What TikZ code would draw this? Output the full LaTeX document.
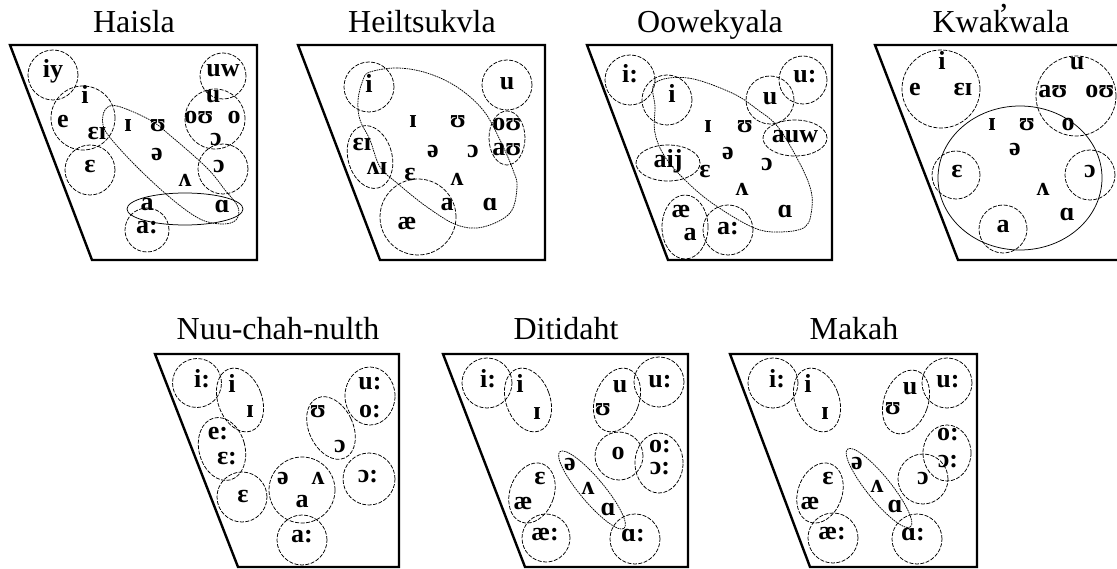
\documentclass[tikz,border=0pt]{standalone}
\usepackage{fontspec}
\setmainfont{Liberation Serif}
\newcommand\ipafnt{\fontsize{26}{26}\bfseries\selectfont}
\newcommand\ttlfnt{\fontsize{32}{32}\selectfont}
\tikzset{
  frame/.style={line width=2.4pt, line join=miter},
  ring/.style={line width=0.75pt, dash pattern=on 4pt off 1.5pt},
  trail/.style={line width=0.75pt, dash pattern=on 1.6pt off 0.8pt},
  v/.style={font=\ipafnt, inner sep=0pt, text height=1ex, text depth=0pt},
  ttl/.style={font=\ttlfnt, anchor=base, inner sep=0pt},
}
\begin{document}
\begin{tikzpicture}[x=1pt,y=-1pt]
\useasboundingbox (0,0) rectangle (1117,569);
\fill[white] (0,0) rectangle (1117,569);
\clip (0,0) rectangle (1117,569);

% ---------------- Haisla ----------------
\node[ttl] (t1) at (134,33) {Haisla};
\draw[frame] (10,45) -- (257,45) -- (257,260) -- (92,260) -- cycle;
\draw[ring] (53,75) circle[radius=25pt];
\draw[ring] (83,118) circle[radius=32pt];
\draw[ring] (90,170) circle[radius=25pt];
\draw[ring] (223,76) circle[radius=23pt];
\draw[ring] (215,119) circle[radius=30pt];
\draw[ring] (223,169) circle[radius=25pt];
\draw[ring] (147,230) circle[radius=22pt];
\draw[line width=0.75pt] (185,209) ellipse[x radius=58pt, y radius=16pt];
\draw[trail] plot[smooth cycle, tension=0.6] coordinates {(105,110) (117,106) (150,120) (172,137) (207,168) (225,190) (238,207) (236,220) (222,224) (200,219) (173,200) (140,170) (112,140) (103,125)};
\node[v] (h1) at (53,75) {iy};
\node[v] (h2) at (85,101) {i};
\node[v] (h3) at (63,125) {e};
\node[v] (h4) at (97,137) {ɛɪ};
\node[v] (h5) at (90,170) {ɛ};
\node[v] (h6) at (223,74) {uw};
\node[v] (h7) at (213,100) {u};
\node[v] (h8) at (199,121) {oʊ};
\node[v] (h9) at (234,121) {o};
\node[v] (h10) at (216,143) {ɔ};
\node[v] (h11) at (219,170) {ɔ};
\node[v] (h12) at (128,129) {ɪ};
\node[v] (h13) at (158,129) {ʊ};
\node[v] (h14) at (157,158) {ə};
\node[v] (h15) at (185,184) {ʌ};
\node[v] (h16) at (147,208) {a};
\node[v] (h17) at (222,210) {ɑ};
\node[v] (h18) at (147,231) {a:};

% ---------------- Heiltsukvla ----------------
\node[ttl] (t2) at (422,33) {Heiltsukvla};
\draw[frame] (298,45) -- (545,45) -- (545,260) -- (380,260) -- cycle;
\draw[ring] (369,87) circle[radius=25pt];
\draw[ring] (507,85) circle[radius=25pt];
\draw[ring] (507,138) ellipse[x radius=18pt, y radius=27pt];
\draw[ring, rotate around={15:(370,157)}] (370,157) ellipse[x radius=22pt, y radius=32pt];
\draw[ring] (418,217) circle[radius=38pt];
\draw[trail] plot[smooth cycle, tension=0.6] coordinates {(370,72) (397,68) (427,73) (457,87) (483,110) (500,140) (513,170) (517,187) (510,213) (483,227) (457,225) (427,207) (397,183) (380,167) (370,140) (360,120) (358,100) (363,80)};
\node[v] (k1) at (369,90) {i};
\node[v] (k2) at (507,87) {u};
\node[v] (k3) at (507,128) {oʊ};
\node[v] (k4) at (507,153) {aʊ};
\node[v] (k5) at (362,148) {ɛɪ};
\node[v] (k6) at (377,172) {ʌɪ};
\node[v] (k7) at (410,178) {ɛ};
\node[v] (k8) at (447,208) {a};
\node[v] (k9) at (407,227) {æ};
\node[v] (k10) at (413,125) {ɪ};
\node[v] (k11) at (458,125) {ʊ};
\node[v] (k12) at (433,155) {ə};
\node[v] (k13) at (473,155) {ɔ};
\node[v] (k14) at (457,183) {ʌ};
\node[v] (k15) at (490,208) {ɑ};

% ---------------- Oowekyala ----------------
\node[ttl] (t3) at (710,33) {Oowekyala};
\draw[frame] (587,45) -- (832,45) -- (832,260) -- (668,260) -- cycle;
\draw[ring] (630,80) circle[radius=25pt];
\draw[ring] (667,100) circle[radius=25pt];
\draw[ring] (770,100) circle[radius=24pt];
\draw[ring] (803,80) circle[radius=24pt];
\draw[ring] (795,138) ellipse[x radius=32pt, y radius=18pt];
\draw[ring] (668,163) ellipse[x radius=32pt, y radius=18pt];
\draw[ring] (685,227) ellipse[x radius=23pt, y radius=32pt];
\draw[ring] (728,230) circle[radius=25pt];
\draw[trail] plot[smooth cycle, tension=0.6] coordinates {(655,83) (688,78) (732,93) (758,110) (778,127) (798,160) (810,187) (812,207) (805,227) (778,232) (752,227) (712,203) (685,180) (665,157) (655,133) (655,107)};
\node[v] (o1) at (630,80) {i:};
\node[v] (o2) at (672,100) {i};
\node[v] (o3) at (770,102) {u};
\node[v] (o4) at (805,80) {u:};
\node[v] (o5) at (795,140) {auw};
\node[v] (o6) at (668,165) {aij};
\node[v] (o7) at (681,215) {æ};
\node[v] (o8) at (690,238) {a};
\node[v] (o9) at (728,232) {a:};
\node[v] (o10) at (708,130) {ɪ};
\node[v] (o11) at (745,130) {ʊ};
\node[v] (o12) at (728,157) {ə};
\node[v] (o13) at (767,168) {ɔ};
\node[v] (o14) at (705,175) {ɛ};
\node[v] (o15) at (742,193) {ʌ};
\node[v] (o16) at (785,215) {ɑ};

% ---------------- Kwakwala ----------------
\node[ttl] (t4) at (1001,33) {Kwak\makebox[0pt][r]{\raisebox{0.22em}{’}}wala};
\draw[frame] (875,45) -- (1130,45) -- (1130,260) -- (958,260) -- cycle;
\draw[ring] (941,89) circle[radius=39pt];
\draw[ring] (1076,96) circle[radius=40pt];
\draw[line width=0.75pt] (1020,178) ellipse[x radius=82pt, y radius=72pt];
\draw[ring] (956,175) circle[radius=24pt];
\draw[ring] (1090,175) circle[radius=25pt];
\draw[ring] (1003,229) circle[radius=24pt];
\node[v] (w1) at (942,67) {i};
\node[v] (w2) at (915,93) {e};
\node[v] (w3) at (963,93) {ɛɪ};
\node[v] (w4) at (1077,67) {u};
\node[v] (w5) at (1053,95) {aʊ};
\node[v] (w6) at (1100,95) {oʊ};
\node[v] (w7) at (1068,128) {o};
\node[v] (w8) at (992,128) {ɪ};
\node[v] (w9) at (1027,128) {ʊ};
\node[v] (w10) at (1015,153) {ə};
\node[v] (w11) at (957,175) {ɛ};
\node[v] (w12) at (1090,175) {ɔ};
\node[v] (w13) at (1043,193) {ʌ};
\node[v] (w14) at (1067,218) {ɑ};
\node[v] (w15) at (1003,230) {a};

% ---------------- Nuu-chah-nulth ----------------
\node[ttl] (t5) at (278,340) {Nuu-chah-nulth};
\draw[frame] (155,354) -- (399,354) -- (399,567) -- (238,567) -- cycle;
\draw[ring] (197,383) circle[radius=24.5pt];
\draw[ring, rotate around={20:(240,400)}] (240,400) ellipse[x radius=22pt, y radius=33pt];
\draw[ring, rotate around={15:(222,449)}] (222,449) ellipse[x radius=23pt, y radius=32pt];
\draw[ring] (242,497) circle[radius=25pt];
\draw[ring] (302,490) circle[radius=33pt];
\draw[ring] (302,540) circle[radius=25pt];
\draw[ring, rotate around={25:(331,428)}] (331,428) ellipse[x radius=22pt, y radius=33pt];
\draw[ring] (370,396) ellipse[x radius=25pt, y radius=29pt];
\draw[ring] (369,479) circle[radius=26pt];
\node[v] (n1) at (202,385) {i:};
\node[v] (n2) at (232,390) {i};
\node[v] (n3) at (250,415) {ɪ};
\node[v] (n4) at (218,437) {e:};
\node[v] (n5) at (227,462) {ɛ:};
\node[v] (n6) at (243,500) {ɛ};
\node[v] (n7) at (283,482) {ə};
\node[v] (n8) at (318,482) {ʌ};
\node[v] (n9) at (302,505) {a};
\node[v] (n10) at (302,540) {a:};
\node[v] (n11) at (318,415) {ʊ};
\node[v] (n12) at (340,450) {ɔ};
\node[v] (n13) at (370,387) {u:};
\node[v] (n14) at (370,415) {o:};
\node[v] (n15) at (368,480) {ɔ:};

% ---------------- Ditidaht ----------------
\node[ttl] (t6) at (566,340) {Ditidaht};
\draw[frame] (443,354) -- (688,354) -- (688,567) -- (525,567) -- cycle;
\draw[ring] (487,383) circle[radius=25pt];
\draw[ring, rotate around={20:(528,400)}] (528,400) ellipse[x radius=22pt, y radius=33pt];
\draw[ring, rotate around={-20:(617,400)}] (617,400) ellipse[x radius=22pt, y radius=33pt];
\draw[ring] (659,382) circle[radius=25pt];
\draw[ring] (619,456) circle[radius=24pt];
\draw[ring] (659,463) ellipse[x radius=24pt, y radius=30pt];
\draw[ring, rotate around={-20:(532,493)}] (532,493) ellipse[x radius=22pt, y radius=31pt];
\draw[ring] (546,538) circle[radius=24pt];
\draw[trail, rotate around={-50:(592,490)}] (592,490) ellipse[x radius=50pt, y radius=12pt];
\draw[ring] (635,539) circle[radius=25pt];
\node[v] (d1) at (488,385) {i:};
\node[v] (d2) at (520,390) {i};
\node[v] (d3) at (537,417) {ɪ};
\node[v] (d4) at (620,390) {u};
\node[v] (d5) at (603,413) {ʊ};
\node[v] (d6) at (660,385) {u:};
\node[v] (d7) at (618,457) {o};
\node[v] (d8) at (660,450) {o:};
\node[v] (d9) at (660,472) {ɔ:};
\node[v] (d10) at (540,482) {ɛ};
\node[v] (d11) at (523,507) {æ};
\node[v] (d12) at (545,538) {æ:};
\node[v] (d13) at (570,468) {ə};
\node[v] (d14) at (588,492) {ʌ};
\node[v] (d15) at (608,513) {ɑ};
\node[v] (d16) at (633,539) {ɑ:};

% ---------------- Makah ----------------
\node[ttl] (t7) at (854,340) {Makah};
\draw[frame] (730,354) -- (977,354) -- (977,567) -- (810,567) -- cycle;
\draw[ring] (773,383) circle[radius=25pt];
\draw[ring, rotate around={20:(817,400)}] (817,400) ellipse[x radius=22pt, y radius=33pt];
\draw[ring, rotate around={-20:(906,402)}] (906,402) ellipse[x radius=22pt, y radius=33pt];
\draw[ring] (947,383) circle[radius=25pt];
\draw[ring] (947,453) ellipse[x radius=24pt, y radius=28pt];
\draw[ring] (923,479) circle[radius=25pt];
\draw[ring, rotate around={-20:(820,493)}] (820,493) ellipse[x radius=22pt, y radius=31pt];
\draw[ring] (833,538) circle[radius=25pt];
\draw[trail, rotate around={-51:(879,488)}] (879,488) ellipse[x radius=50pt, y radius=12pt];
\draw[ring] (917,539) circle[radius=25pt];
\node[v] (m1) at (777,385) {i:};
\node[v] (m2) at (808,390) {i};
\node[v] (m3) at (825,417) {ɪ};
\node[v] (m4) at (910,392) {u};
\node[v] (m5) at (893,412) {ʊ};
\node[v] (m6) at (948,385) {u:};
\node[v] (m7) at (948,438) {o:};
\node[v] (m8) at (948,465) {ɔ:};
\node[v] (m9) at (923,482) {ɔ};
\node[v] (m10) at (828,482) {ɛ};
\node[v] (m11) at (810,507) {æ};
\node[v] (m12) at (832,537) {æ:};
\node[v] (m13) at (857,467) {ə};
\node[v] (m14) at (877,490) {ʌ};
\node[v] (m15) at (895,510) {ɑ};
\node[v] (m16) at (913,538) {ɑ:};
\end{tikzpicture}
\end{document}
